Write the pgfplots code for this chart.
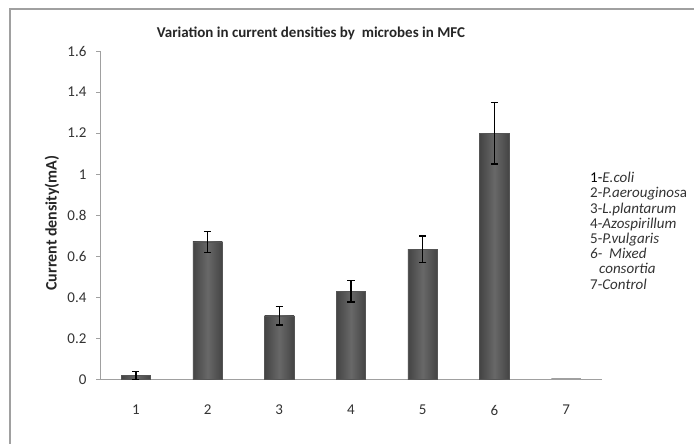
\documentclass[border=0pt]{standalone}
\usepackage{fontspec}
\setmainfont{Carlito}
\usepackage{pgfplots}
\pgfplotsset{compat=1.18}
\definecolor{axgray}{HTML}{A0A0A0}
\definecolor{txt}{HTML}{333333}
\definecolor{bardark}{HTML}{444444}
\definecolor{barmid}{HTML}{686868}
\definecolor{barline}{HTML}{555555}
\begin{document}
\begin{tikzpicture}[x=1pt,y=1pt]
\useasboundingbox (0,0) rectangle (694,444);
\draw[axgray, line width=1.2pt] (10,-5) -- (10,435) -- (700,435);
\begin{axis}[
  at={(100pt,64.5pt)}, anchor=south west,
  scale only axis, width=502pt, height=328.5pt,
  xmin=0.5, xmax=7.5, ymin=0, ymax=1.6,
  axis x line*=bottom, axis y line*=left,
  axis line style={axgray, line width=0.8pt},
  xtick={1,...,7},
  minor xtick={0.5,1.5,...,7.5},
  ytick={0,0.2,...,1.6},
  yticklabel style={/pgf/number format/fixed, /pgf/number format/precision=1},
  /pgf/number format/assume math mode=true,
  tick align=outside,
  x tick style={draw=none},
  minor x tick style={axgray, line width=0.8pt},
  minor tick length=5pt,
  y tick style={axgray, line width=0.8pt},
  major tick length=4pt,
  ticklabel style={font=\fontsize{15}{17}\selectfont, text=txt},
  xticklabel style={yshift=-18pt},
  yticklabel style={xshift=-6pt},
  clip=false,
  every axis plot/.append style={ybar, bar width=29.5pt, draw=barline, line width=0.5pt,
    left color=bardark, right color=bardark, middle color=barmid},
  err/.style={error bars/.cd, y dir=both, y explicit,
    error bar style={black, line width=1.3pt},
    error mark options={rotate=90, mark size=3.6pt, line width=1.3pt, black}},
]
\addplot[err] coordinates {(1,0.02) +- (0,0.02)};
\addplot[err] coordinates {(2,0.67) +- (0,0.052)};
\addplot[err] coordinates {(3,0.31) +- (0,0.045)};
\addplot[err] coordinates {(4,0.43) +- (0,0.052)};
\addplot[err] coordinates {(5,0.634) +- (0,0.065)};
\addplot[err] coordinates {(6,1.2) +- (0,0.15)};
\addplot[draw=axgray, left color=axgray, right color=axgray, middle color=axgray, line width=0.4pt] coordinates {(7,0.003)};
\end{axis}
\node[rotate=90, anchor=center, font=\fontsize{16}{18}\selectfont\bfseries, text=black!85] at (52,221) {Current density(mA)};
\node[anchor=center, font=\fontsize{15}{17}\selectfont\bfseries, text=black!85] at (311,411) {Variation in current densities by~~microbes in MFC};
\node[anchor=north west, align=left, inner sep=0pt, text=txt, font=\fontsize{15}{15.2}\selectfont] at (590,272) {%
\textcolor{black}{1-}\textit{E.coli}\\
2-\textit{P.aerouginos}a\\
3-\textit{L.plantarum}\\
4-\textit{Azospirillum}\\
5-\textit{P.vulgaris}\\
\textit{6-~~Mixed}\\
\textit{\hspace*{9pt}consortia}\\
7-\textit{Control}};
\end{tikzpicture}
\end{document}
